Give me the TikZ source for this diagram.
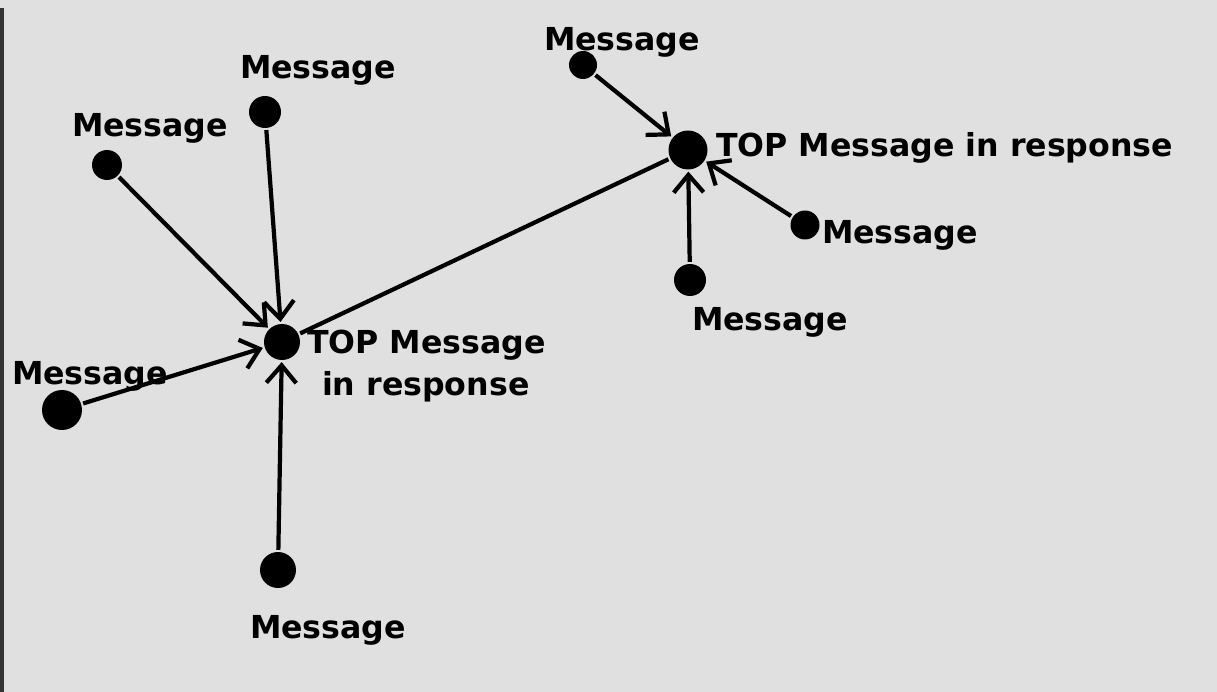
\documentclass[tikz,border=0pt]{standalone}
\usepackage{fontspec}
\setmainfont{DejaVu Sans}
\usetikzlibrary{arrows.meta}
\begin{document}
\begin{tikzpicture}[x=0.02cm, y=-0.02cm, >={Straight Barb[length=10pt,width=17pt]}, line width=2.4pt,
		font=\fontsize{18}{24}\selectfont\bfseries,
		dot/.style={circle, fill=black, inner sep=0pt, minimum size=#1},
		lbl/.style={inner sep=0pt}]
		\fill[black!12] (0,0) rectangle (1217,692);
		\fill[black!80] (0,8) rectangle (4,692);
		\useasboundingbox (0,0) rectangle (1217,692);

		\node[dot=0.72cm] (A) at (282,342) {};
		\node[dot=0.78cm] (B) at (688,150) {};

		\node[dot=0.6cm] (m1) at (107,165) {};
		\node[dot=0.64cm] (m2) at (265,112) {};
		\node[dot=0.8cm] (m3) at (62,410) {};
		\node[dot=0.72cm] (m4) at (278,570) {};
		\node[dot=0.56cm] (m5) at (583,65) {};
		\node[dot=0.58cm] (m6) at (805,225) {};
		\node[dot=0.64cm] (m7) at (690,280) {};

		\node[lbl, anchor=west, align=left] (tA) at (305,366) {TOP Message\\ \hspace{0.3cm}in response};
		\node[lbl, anchor=west] (tB) at (714,148) {TOP Message in response};
		\node[lbl] (t1) at (150,128) {Message};
		\node[lbl] (t2) at (318,70) {Message};
		\node[lbl] (t3) at (90,376) {Message};
		\node[lbl] (t4) at (328,630) {Message};
		\node[lbl] (t5) at (622,42) {Message};
		\node[lbl] (t6) at (900,235) {Message};
		\node[lbl] (t7) at (770,322) {Message};

		\draw[->] (m1) -- (A);
		\draw[->] (m2) -- (A);
		\draw[->] (m3) -- (A);
		\draw[->] (m4) -- (A);
		\draw (A) -- (B);
		\draw[->] (m5) -- (B);
		\draw[->] (m6) -- (B);
		\draw[->] (m7) -- (B);
	\end{tikzpicture}
\end{document}
